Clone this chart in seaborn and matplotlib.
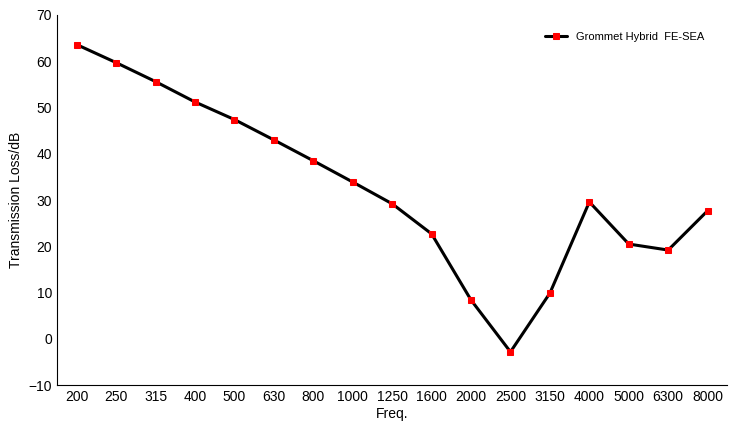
import matplotlib
matplotlib.use("Agg")
import matplotlib.pyplot as plt
import seaborn as sns
import pandas as pd

freqs = ["200","250","315","400","500","630","800","1000","1250","1600","2000","2500","3150","4000","5000","6300","8000"]
tl = [63.6,59.7,55.6,51.2,47.4,43.0,38.5,33.9,29.2,22.7,8.4,-2.8,9.9,29.6,20.5,19.2,27.7]

sns.set_style("white")
plt.rcParams['font.family'] = ['Liberation Sans', 'DejaVu Sans']
plt.rcParams['text.color'] = 'black'
plt.rcParams['axes.labelcolor'] = 'black'
plt.rcParams['xtick.color'] = 'black'
plt.rcParams['ytick.color'] = 'black'
df = pd.DataFrame({"Freq.": freqs, "TL": tl})

fig = plt.figure(figsize=(7.31, 4.28), dpi=100)
ax = fig.add_axes([0.078, 0.10, 0.917, 0.865])
sns.lineplot(data=df, x="Freq.", y="TL", ax=ax, color="black", lw=2.2, marker="s",
             markersize=5, markerfacecolor="red", markeredgecolor="red",
             label="Grommet Hybrid  FE-SEA", sort=False)
ax.set_ylim(-10, 70)
ax.set_xlim(-0.5, len(freqs) - 0.5)
ax.set_yticks(range(-10, 71, 10))
ax.set_xlabel("Freq.", fontsize=10, labelpad=2)
ax.set_ylabel("Transmission Loss/dB", fontsize=10)
ax.tick_params(labelsize=10, length=0)
for s in ["top", "right"]:
    ax.spines[s].set_visible(False)
for s in ["left", "bottom"]:
    ax.spines[s].set_color("black")
    ax.spines[s].set_linewidth(0.8)
ax.legend(loc="upper right", frameon=False, fontsize=8, bbox_to_anchor=(0.98, 0.98),
          handlelength=2.0, markerscale=0.9)
fig.savefig("out.png", dpi=100)
